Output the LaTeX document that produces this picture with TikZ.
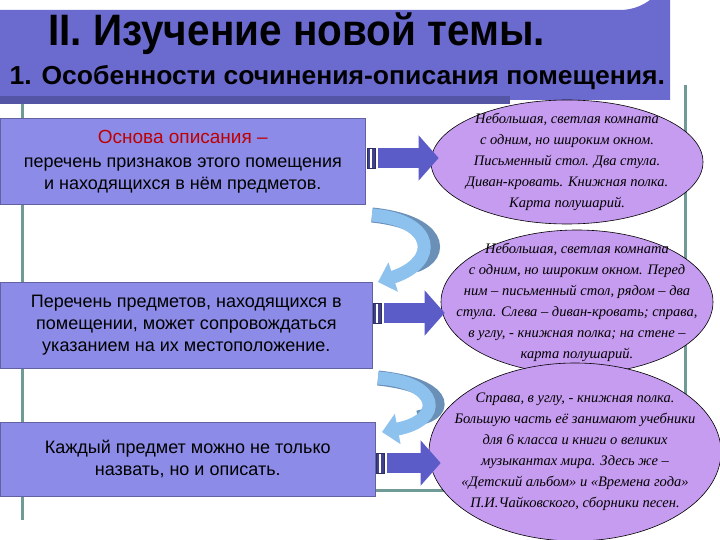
\documentclass[tikz,border=0pt]{standalone}
\usepackage{fontspec}
\setmainfont{Liberation Sans}
\newfontfamily\scr{Liberation Serif}
\usetikzlibrary{shapes.geometric,arrows.meta}
\definecolor{bar}{HTML}{6A6ACF}
\definecolor{boxc}{HTML}{8C8CE8}
\definecolor{ell}{HTML}{C69CF0}
\definecolor{frm}{HTML}{6F9A96}
\definecolor{arr}{HTML}{5C5CC8}
\definecolor{cur}{HTML}{8EC2EE}
\definecolor{curd}{HTML}{6A90B8}
\begin{document}
\begin{tikzpicture}[x=1pt,y=-1pt,
 boxs/.style={fill=boxc,draw=boxc!70!black,line width=0.6pt,align=center,font=\fontsize{18}{22}\selectfont,inner sep=2pt},
 ells/.style={ellipse,fill=ell,draw=black,line width=0.6pt,inner sep=0pt},
 etext/.style={align=center,font=\scr\itshape\fontsize{14.5}{21}\selectfont,inner sep=0pt},
 barr/.style={arr,line width=20pt,-{Triangle[length=20pt,width=44pt]}},
 carr/.style={cur,line width=13pt,-{Triangle[length=16pt,width=30pt]}}]
\useasboundingbox (0,0) rectangle (720,540);
\fill[white] (0,0) rectangle (720,540);
% frame
\draw[frm,line width=3pt] (22,100) -- (22,520);
\draw[frm,line width=3pt] (22,490) -- (685,490) -- (685,85);
% title bar
\fill[bar] (0,10) -- (620,10) arc[start angle=90,end angle=0,radius=50] -- (670,100) -- (0,100) -- cycle;
\fill[bar!80!black] (0,96) rectangle (510,104);
\node[font=\bfseries\fontsize{44}{46}\selectfont,anchor=west,xscale=0.92] (t1) at (45,34) {II. Изучение новой темы.};
\node[font=\bfseries\fontsize{26}{28}\selectfont,anchor=west,xscale=1.02] (t2) at (6,78) {1. Особенности сочинения-описания помещения.};
% boxes
\node[boxs,minimum width=365pt,minimum height=86pt,anchor=north west] (b1) at (0,118)
 {\textcolor{red!75!black}{\fontsize{19}{22}\selectfont Основа описания –}\\[2pt]перечень признаков этого помещения\\и находящихся в нём предметов.};
\node[boxs,minimum width=372pt,minimum height=86pt,anchor=north west] (b2) at (0,282)
 {Перечень предметов, находящихся в\\помещении, может сопровождаться\\указанием на их местоположение.};
\node[boxs,minimum width=375pt,minimum height=74pt,anchor=north west] (b3) at (0,422)
 {Каждый предмет можно не только\\назвать, но и описать.};
% ellipses
\node[ells,minimum width=272pt,minimum height=124pt] (e1) at (567,162) {};
\node[etext] (x1) at (e1.center)
 {Небольшая, светлая комната\\с одним, но широким окном.\\Письменный стол. Два стула.\\Диван-кровать. Книжная полка.\\Карта полушарий.};
\node[ells,minimum width=272pt,minimum height=144pt] (e2) at (577,302) {};
\node[etext] (x2) at (e2.center)
 {Небольшая, светлая комната\\с одним, но широким окном. Перед\\ним – письменный стол, рядом – два\\стула. Слева – диван-кровать; справа,\\в углу, - книжная полка; на стене –\\карта полушарий.};
\node[ells,minimum width=292pt,minimum height=178pt] (e3) at (575,452) {};
\node[etext] (x3) at (e3.center)
 {Справа, в углу, - книжная полка.\\Большую часть её занимают учебники\\для 6 класса и книги о великих\\музыкантах мира. Здесь же –\\«Детский альбом» и «Времена года»\\П.И.Чайковского, сборники песен.};
% handles
\foreach \y/\x in {158/367,313/373,463/376}{
 \fill[arr!70!black] (\x,\y-10) rectangle (\x+3,\y+10);
 \fill[white] (\x+3,\y-10) rectangle (\x+5,\y+10);
 \fill[arr!70!black] (\x+5,\y-10) rectangle (\x+8,\y+10);
 \draw[arr!50!black,line width=0.4pt] (\x,\y-10) rectangle (\x+8,\y+10);
}
\coordinate (s1) at (378,158); \coordinate (s2) at (384,313); \coordinate (s3) at (387,463);
\draw[barr] (s1) -- ([xshift=8pt]s1 -| e1.west);
\draw[barr] (s2) -- ([xshift=4pt]s2 -| e2.west);
\draw[barr] (s3) -- ([xshift=12pt]s3 -| e3.west);
% curved arrows
\coordinate (c1) at (372,215); \coordinate (c2) at (378,282);
\coordinate (c3) at (378,378); \coordinate (c4) at (382,432);
\draw[curd,line width=15pt] (c1) .. controls (440,222) and (445,255) .. (415,265);
\draw[carr] (c1) .. controls (435,220) and (440,262) .. (c2);
\draw[curd,line width=15pt] (c3) .. controls (445,385) and (450,412) .. (418,418);
\draw[carr] (c3) .. controls (440,382) and (445,420) .. (c4);
\end{tikzpicture}
\end{document}
